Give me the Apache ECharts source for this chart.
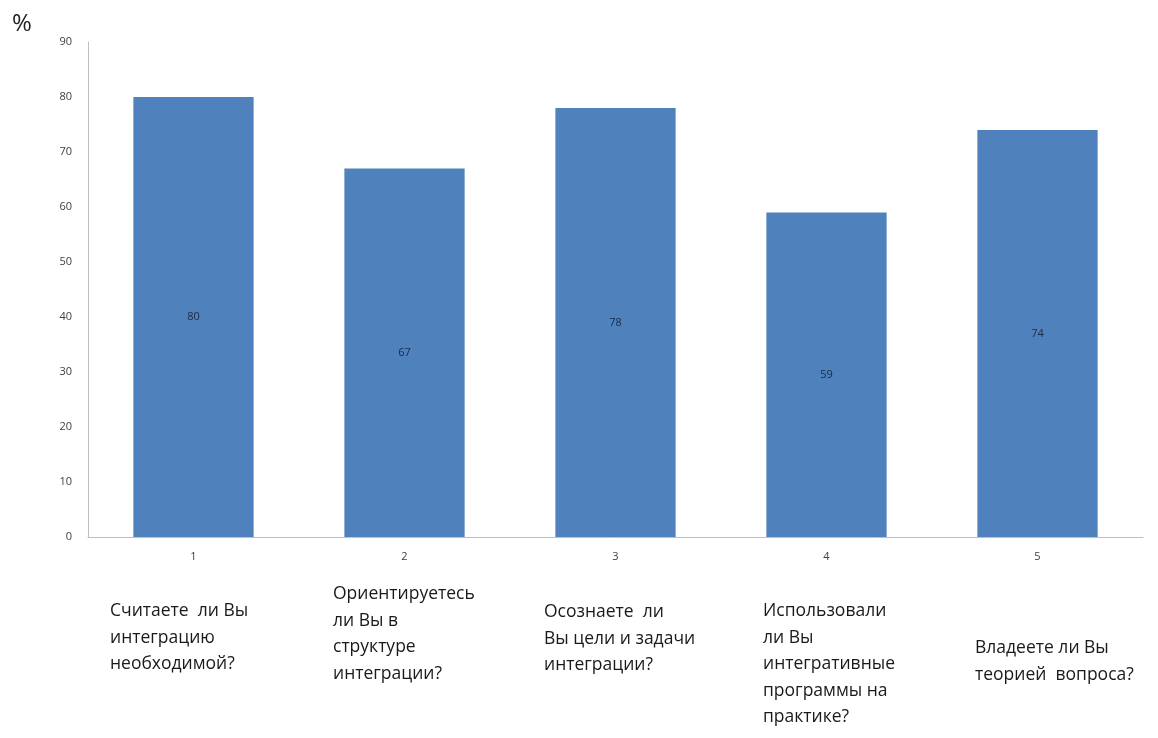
<!DOCTYPE html>
<html>
<head>
<meta charset="utf-8">
<script src="https://cdn.jsdelivr.net/npm/echarts@6/dist/echarts.min.js"></script>
<style>
  html, body { margin: 0; padding: 0; background: #fff; }
  #chart { width: 1158px; height: 738px; }
</style>
</head>
<body>
<div id="chart"></div>
<script>
// Survey results: share of respondents (%) answering "yes" to each question
const categories = ['1', '2', '3', '4', '5'];
const values = [80, 67, 78, 59, 74];
const yTicks = { min: 0, max: 90, interval: 10 };

// Question texts shown under each column, already broken into lines
const questions = [
  ['Считаете  ли Вы', 'интеграцию', 'необходимой?'],
  ['Ориентируетесь', 'ли Вы в', 'структуре', 'интеграции?'],
  ['Осознаете  ли', 'Вы цели и задачи', 'интеграции?'],
  ['Использовали', 'ли Вы', 'интегративные', 'программы на', 'практике?'],
  ['Владеете ли Вы', 'теорией  вопроса?']
];
// Where each question block starts (left edge, top edge)
const questionPlacement = [
  [110, 598], [333, 581], [544, 599], [763, 598], [975, 635]
];

const chart = echarts.init(document.getElementById('chart'));

const graphics = [
  {
    type: 'text', left: 12, top: 12,
    style: { text: '%', fontSize: 24, fill: '#222', fontFamily: 'Open Sans' }
  }
];
questions.forEach((lines, i) => {
  graphics.push({
    type: 'text',
    left: questionPlacement[i][0],
    top: questionPlacement[i][1],
    style: {
      text: lines.join('\n'),
      fontSize: 17.5,
      lineHeight: 26.5,
      fill: '#1a1a1a',
      fontFamily: 'Open Sans'
    }
  });
});

chart.setOption({
  animation: false,
  backgroundColor: '#fff',
  grid: { left: 88, right: 15, top: 42, bottom: 201 },
  xAxis: {
    type: 'category',
    data: categories,
    axisLine: { lineStyle: { color: '#bfbfbf', width: 1 } },
    axisTick: { show: false },
    axisLabel: { color: '#404040', fontSize: 11, margin: 14, fontFamily: 'Open Sans' }
  },
  yAxis: {
    type: 'value',
    min: yTicks.min, max: yTicks.max, interval: yTicks.interval,
    axisLine: { show: true, lineStyle: { color: '#bfbfbf', width: 1 } },
    axisTick: { show: false },
    splitLine: { show: false },
    axisLabel: { color: '#404040', fontSize: 11, margin: 16, fontFamily: 'Open Sans' }
  },
  series: [{
    type: 'bar',
    data: values,
    barWidth: '57%',
    itemStyle: { color: '#4f81bd' },
    label: {
      show: true,
      position: 'inside',
      color: '#1c2a44',
      fontSize: 11,
      fontFamily: 'Open Sans'
    }
  }],
  graphic: graphics
});
</script>
</body>
</html>
